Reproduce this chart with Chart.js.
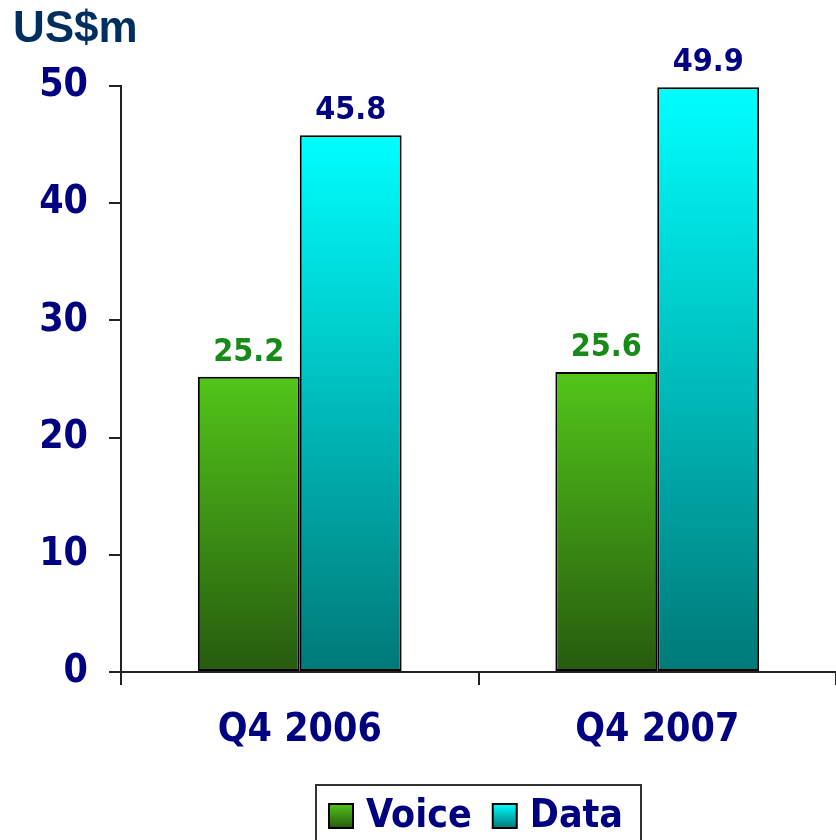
<!DOCTYPE html>
<html>
<head>
<meta charset="utf-8">
<script src="https://cdn.jsdelivr.net/npm/chart.js@4/dist/chart.umd.min.js"></script>
<style>
  html, body { margin: 0; padding: 0; background: #fff; }
  #wrap { width: 836px; height: 840px; position: relative; }
</style>
</head>
<body>
<div id="wrap"><canvas id="chart"></canvas></div>
<script>
const categories = ['Q4 2006', 'Q4 2007'];
const voiceValues = [25.2, 25.6];
const dataValues = [45.8, 49.9];
const yTicks = [0, 10, 20, 30, 40, 50];
const unitLabel = 'US$m';

const NAVY = '#000080';
const FONT = "'DejaVu Sans Condensed', 'DejaVu Sans', Verdana, sans-serif";

// gradient stops top -> bottom for each series
const voiceStops = ['#52c51a', '#275a0f'];
const dataStops = ['#00ffff', '#007878'];

const barGradient = (stops) => (ctx) => {
  const chart = ctx.chart;
  if (!chart.chartArea || ctx.type !== 'data') return stops[1];
  const y = chart.scales.y;
  const top = y.getPixelForValue(ctx.raw);
  const base = y.getPixelForValue(0);
  const g = chart.ctx.createLinearGradient(0, top, 0, base);
  g.addColorStop(0, stops[0]);
  g.addColorStop(1, stops[1]);
  return g;
};

// value labels above each bar
const valueLabels = {
  id: 'valueLabels',
  afterDatasetsDraw(chart) {
    const ctx = chart.ctx;
    ctx.save();
    ctx.font = `bold 32px ${FONT}`;
    ctx.textAlign = 'center';
    ctx.textBaseline = 'alphabetic';
    chart.data.datasets.forEach((ds, i) => {
      ctx.fillStyle = ds.labelColor;
      chart.getDatasetMeta(i).data.forEach((bar, j) => {
        ctx.fillText(ds.data[j].toFixed(1), bar.x, bar.y - 16);
      });
    });
    ctx.restore();
  }
};

// unit title + boxed legend
const decorations = {
  id: 'decorations',
  afterDraw(chart) {
    const ctx = chart.ctx;
    ctx.save();
    ctx.font = "bold 44px 'Liberation Sans', Arial, sans-serif";
    ctx.fillStyle = '#002f5f';
    ctx.textBaseline = 'alphabetic';
    ctx.textAlign = 'left';
    ctx.fillText(unitLabel, 13, 42);

    // legend box
    ctx.strokeStyle = '#333';
    ctx.lineWidth = 2;
    ctx.strokeRect(316, 785, 325, 70);

    ctx.font = `bold 39px ${FONT}`;
    ctx.textBaseline = 'middle';
    let x = 329;
    const cy = 816;
    chart.data.datasets.forEach((ds) => {
      const g = ctx.createLinearGradient(0, cy - 12, 0, cy + 12);
      g.addColorStop(0, ds.stops[0]);
      g.addColorStop(1, ds.stops[1]);
      ctx.fillStyle = g;
      ctx.fillRect(x, cy - 12, 24, 24);
      ctx.strokeStyle = '#000';
      ctx.lineWidth = 2;
      ctx.strokeRect(x, cy - 12, 24, 24);
      ctx.fillStyle = NAVY;
      ctx.fillText(ds.label, x + 37, cy + 1);
      x += 37 + ctx.measureText(ds.label).width + 21;
    });
    ctx.restore();
  }
};

new Chart(document.getElementById('chart'), {
  type: 'bar',
  data: {
    labels: categories,
    datasets: [
      {
        label: 'Voice', data: voiceValues, stops: voiceStops, labelColor: '#178a17',
        backgroundColor: barGradient(voiceStops),
        borderColor: '#000', borderWidth: 2, borderSkipped: false,
        categoryPercentage: 0.57, barPercentage: 1,
      },
      {
        label: 'Data', data: dataValues, stops: dataStops, labelColor: NAVY,
        backgroundColor: barGradient(dataStops),
        borderColor: '#000', borderWidth: 2, borderSkipped: false,
        categoryPercentage: 0.57, barPercentage: 1,
      },
    ],
  },
  options: {
    responsive: true,
    maintainAspectRatio: false,
    animation: false,
    layout: { padding: { top: 86, right: 0, bottom: 0, left: 0 } },
    plugins: {
      legend: { display: false },
      tooltip: { enabled: false },
    },
    scales: {
      x: {
        grid: { display: true, drawOnChartArea: false, drawTicks: true, tickLength: 13, color: '#222', lineWidth: 2 },
        border: { display: true, color: '#222', width: 2 },
        ticks: { color: NAVY, font: { family: FONT, size: 39, weight: 'bold' }, padding: 22 },
        afterFit: (s) => { s.height = 168; },
      },
      y: {
        min: 0, max: 50,
        afterBuildTicks: (s) => { s.ticks = yTicks.map(v => ({ value: v })); },
        grid: { display: true, drawOnChartArea: false, drawTicks: true, tickLength: 12, color: '#222', lineWidth: 2 },
        border: { display: true, color: '#222', width: 2 },
        ticks: { color: NAVY, font: { family: FONT, size: 39, weight: 'bold' }, padding: 21 },
        afterFit: (s) => { s.width = 121; },
      },
    },
  },
  plugins: [valueLabels, decorations],
});
</script>
</body>
</html>
